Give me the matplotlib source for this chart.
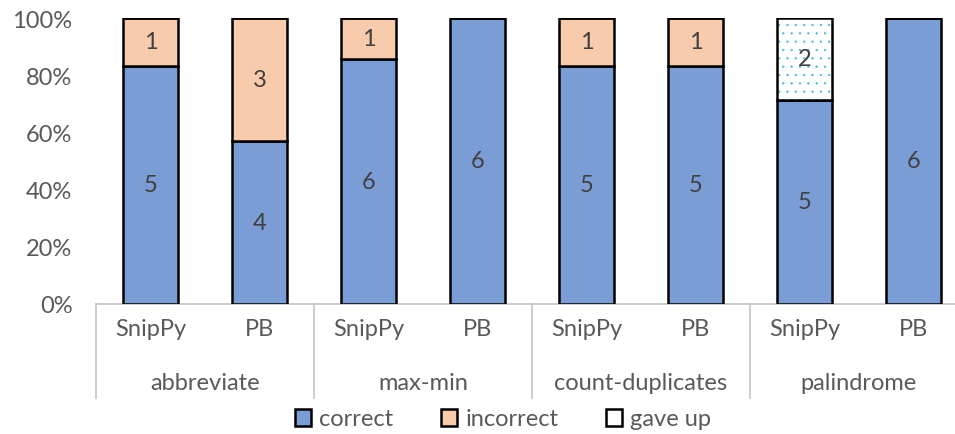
import matplotlib.pyplot as plt
import matplotlib.transforms as mtransforms
from matplotlib.patches import Patch
import numpy as np

plt.rcParams['font.family'] = ['Lato', 'DejaVu Sans']
plt.rcParams['hatch.linewidth'] = 0.4

tasks = ['abbreviate', 'max-min', 'count-duplicates', 'palindrome']
tools = ['SnipPy', 'PB']
correct = [5, 4, 6, 6, 5, 5, 5, 6]
incorrect = [1, 3, 1, 0, 1, 1, 0, 0]
gave_up = [0, 0, 0, 0, 0, 0, 2, 0]

c_blue = '#7b9dd6'
c_orange = '#f8cbad'
c_dots = '#3ab8e0'
c_text = '#595959'
c_grid = '#c8c8c8'

correct = np.array(correct, dtype=float)
incorrect = np.array(incorrect, dtype=float)
gave_up = np.array(gave_up, dtype=float)
total = correct + incorrect + gave_up
p_cor = correct / total * 100
p_inc = incorrect / total * 100
p_gu = gave_up / total * 100

fig = plt.figure(figsize=(9.55, 4.35), dpi=100)
ax = fig.add_axes([96 / 955, 130 / 435, 872 / 955, 286 / 435])

x = np.arange(len(correct))
w = 0.5
ax.bar(x, p_cor, w, color=c_blue, edgecolor='black', linewidth=1.8, zorder=3)
ax.bar(x, p_inc, w, bottom=p_cor, color=c_orange, edgecolor='black', linewidth=1.8, zorder=3)
# dotted fill for "gave up", outline drawn on top
ax.bar(x, p_gu, w, bottom=p_cor + p_inc, color='white', edgecolor=c_dots, hatch='..',
       linewidth=0, zorder=3)
ax.bar(x, p_gu, w, bottom=p_cor + p_inc, fill=False, edgecolor='black', linewidth=1.8, zorder=4)

for i in range(len(x)):
    base = 0
    for val, pct in ((correct[i], p_cor[i]), (incorrect[i], p_inc[i]), (gave_up[i], p_gu[i])):
        if val > 0:
            ax.text(x[i], base + pct / 2, '%d' % val, ha='center', va='center',
                    fontsize=17, color='#404040', zorder=5)
        base += pct

ax.set_xlim(-0.5, len(x) - 0.5)
ax.set_ylim(0, 100)
ax.set_yticks(np.arange(0, 101, 20))
ax.set_yticklabels(['%d%%' % v for v in range(0, 101, 20)])
ax.tick_params(axis='y', length=0, labelsize=17, labelcolor=c_text, pad=17)
ax.set_xticks([])
for s in ['top', 'right', 'left']:
    ax.spines[s].set_visible(False)
ax.spines['bottom'].set_color(c_grid)
ax.spines['bottom'].set_linewidth(1.3)

# two-level category axis
trans = mtransforms.blended_transform_factory(ax.transData, ax.transAxes)
for i in range(len(x)):
    ax.text(x[i], -0.087, tools[i % 2], transform=trans, ha='center', va='center',
            fontsize=17, color=c_text)
for j, t in enumerate(tasks):
    ax.text(2 * j + 0.5, -0.273, t, transform=trans, ha='center', va='center',
            fontsize=17, color=c_text)
for j in range(len(tasks) + 1):
    ax.plot([2 * j - 0.5, 2 * j - 0.5], [0, -0.33], transform=trans, color=c_grid,
            linewidth=1.3, clip_on=False)

handles = [Patch(facecolor=c_blue, edgecolor='black', linewidth=1.8, label='correct'),
           Patch(facecolor=c_orange, edgecolor='black', linewidth=1.8, label='incorrect'),
           Patch(facecolor='white', edgecolor='black', linewidth=1.8, label='gave up')]
leg = fig.legend(handles=handles, loc='center', bbox_to_anchor=(503 / 955, 1 - 420 / 435),
                 ncol=3, frameon=False, fontsize=17, handlelength=0.7, handleheight=0.7,
                 handletextpad=0.35, columnspacing=2.0)
for t in leg.get_texts():
    t.set_color(c_text)

fig.savefig('out.png', dpi=100)
